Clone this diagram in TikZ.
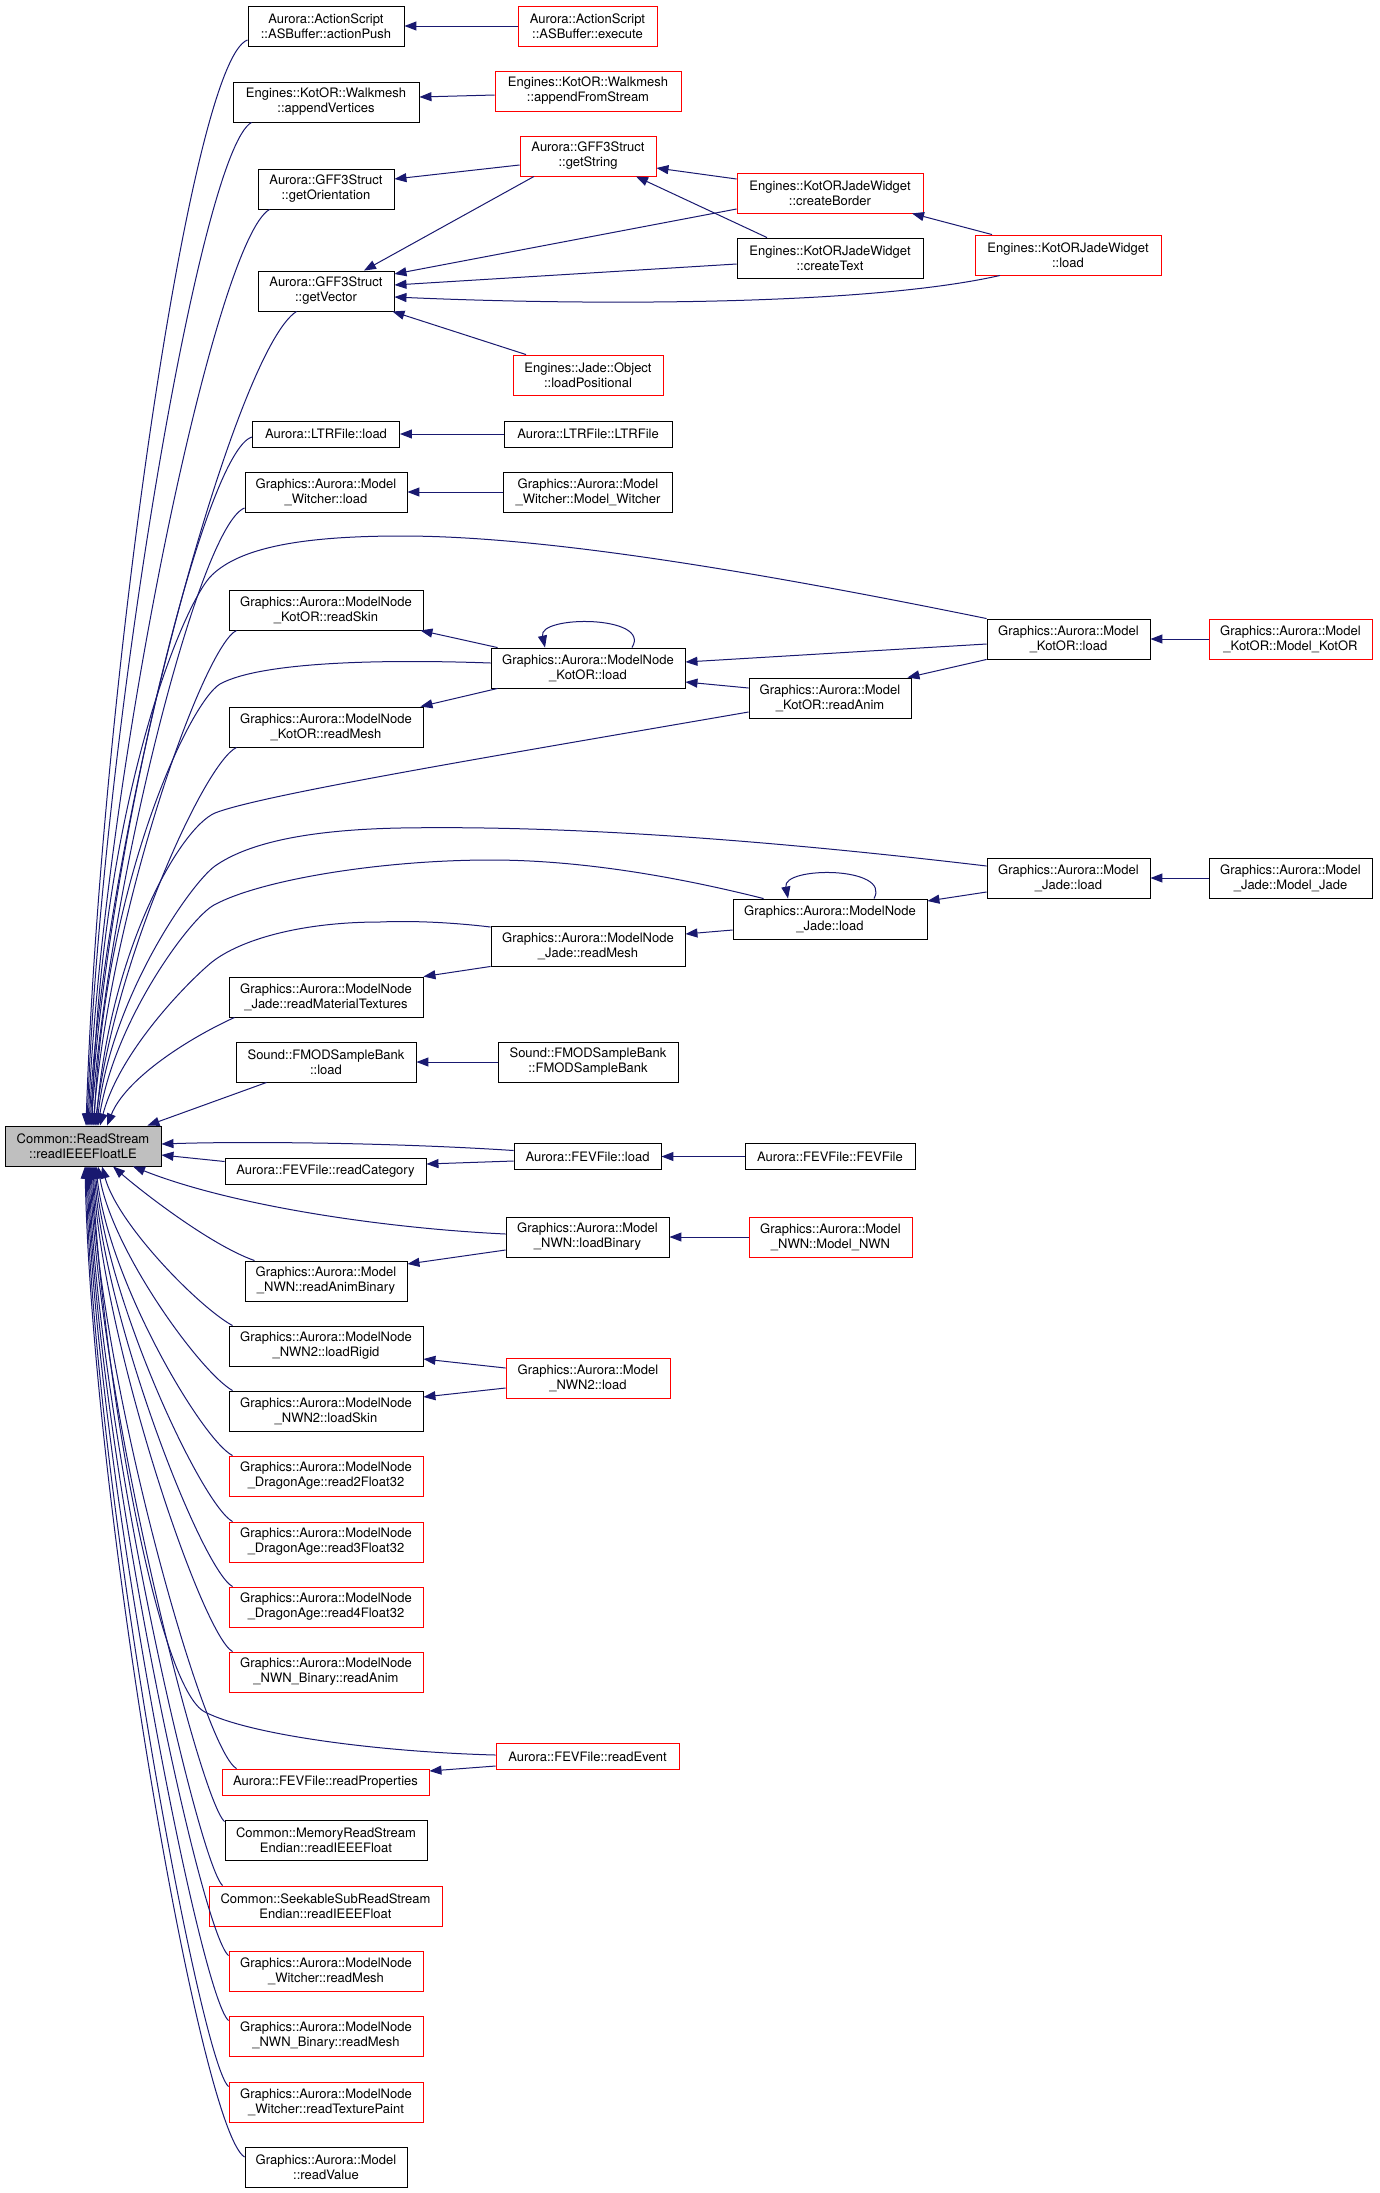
\documentclass[tikz,border=0pt]{standalone}
\usepackage{fontspec}
\setmainfont{TeX Gyre Heros}
\usetikzlibrary{arrows.meta}
\definecolor{navy}{HTML}{191970}
\definecolor{boxgray}{HTML}{BFBFBF}
\tikzset{
  box/.style={draw=black, line width=0.9pt, rectangle, inner sep=0pt, minimum height=40pt, align=center, font=\fontsize{13}{15}\selectfont, fill=white},
  rbox/.style={box, draw=red},
  one/.style={minimum height=26pt},
  callarrow/.style={draw=navy, line width=1pt, -{Triangle[length=12pt,width=9pt]}}
}
\begin{document}
\begin{tikzpicture}[x=1pt,y=-1pt]
\fill[white] (0,0) rectangle (1379,2193);
\path[use as bounding box] (0,0) rectangle (1379,2193);

% nodes
\node[box, minimum width=156pt, fill=boxgray] (main) at (83,1146) {Common::ReadStream\\::readIEEEFloatLE};
\node[box, minimum width=156pt] (actionPush) at (326,26) {Aurora::ActionScript\\::ASBuffer::actionPush};
\node[rbox, minimum width=139pt] (execute) at (587.5,26) {Aurora::ActionScript\\::ASBuffer::execute};
\node[box, minimum width=186pt] (appendVertices) at (326,102) {Engines::KotOR::Walkmesh\\::appendVertices};
\node[rbox, minimum width=186pt] (appendFromStream) at (588,91) {Engines::KotOR::Walkmesh\\::appendFromStream};
\node[box, minimum width=136pt] (getOrientation) at (326,189) {Aurora::GFF3Struct\\::getOrientation};
\node[rbox, minimum width=136pt] (getString) at (588,156) {Aurora::GFF3Struct\\::getString};
\node[box, minimum width=136pt] (getVector) at (326,291) {Aurora::GFF3Struct\\::getVector};
\node[rbox, minimum width=186pt] (createBorder) at (830,193) {Engines::KotORJadeWidget\\::createBorder};
\node[box, minimum width=186pt] (createText) at (830,258) {Engines::KotORJadeWidget\\::createText};
\node[rbox, minimum width=186pt] (kjwLoad) at (1068,255) {Engines::KotORJadeWidget\\::load};
\node[rbox, minimum width=150pt] (loadPositional) at (588,375) {Engines::Jade::Object\\::loadPositional};
\node[box, one, minimum width=147pt] (ltrLoad) at (326,434) {Aurora::LTRFile::load};
\node[box, one, minimum width=168pt] (ltrFile) at (588,434) {Aurora::LTRFile::LTRFile};
\node[box, minimum width=162pt] (witcherLoad) at (326,492) {Graphics::Aurora::Model\\\_Witcher::load};
\node[box, minimum width=169pt] (witcherCtor) at (588,492) {Graphics::Aurora::Model\\\_Witcher::Model\_Witcher};
\node[box, minimum width=194pt] (kotorReadSkin) at (326,610) {Graphics::Aurora::ModelNode\\\_KotOR::readSkin};
\node[box, minimum width=194pt] (mnKotorLoad) at (588,668) {Graphics::Aurora::ModelNode\\\_KotOR::load};
\node[box, minimum width=194pt] (kotorReadMesh) at (326,727) {Graphics::Aurora::ModelNode\\\_KotOR::readMesh};
\node[box, minimum width=163pt] (mKotorLoad) at (1068.5,639) {Graphics::Aurora::Model\\\_KotOR::load};
\node[rbox, minimum width=163pt] (mKotorCtor) at (1290.5,639) {Graphics::Aurora::Model\\\_KotOR::Model\_KotOR};
\node[box, minimum width=162pt] (kotorReadAnim) at (830,698) {Graphics::Aurora::Model\\\_KotOR::readAnim};
\node[box, minimum width=163pt] (mJadeLoad) at (1068.5,878) {Graphics::Aurora::Model\\\_Jade::load};
\node[box, minimum width=163pt] (mJadeCtor) at (1290.5,878) {Graphics::Aurora::Model\\\_Jade::Model\_Jade};
\node[box, minimum width=194pt] (mnJadeLoad) at (830,919) {Graphics::Aurora::ModelNode\\\_Jade::load};
\node[box, minimum width=194pt] (jadeReadMesh) at (588,946) {Graphics::Aurora::ModelNode\\\_Jade::readMesh};
\node[box, minimum width=194pt] (jadeReadMat) at (326,997) {Graphics::Aurora::ModelNode\\\_Jade::readMaterialTextures};
\node[box, minimum width=180pt] (fmodLoad) at (326,1062) {Sound::FMODSampleBank\\::load};
\node[box, minimum width=180pt] (fmodCtor) at (588,1062) {Sound::FMODSampleBank\\::FMODSampleBank};
\node[box, one, minimum width=147pt] (fevLoad) at (587.5,1156.5) {Aurora::FEVFile::load};
\node[box, one, minimum width=201pt] (fevReadCat) at (325.5,1171.5) {Aurora::FEVFile::readCategory};
\node[box, one, minimum width=170pt] (fevCtor) at (830,1156.5) {Aurora::FEVFile::FEVFile};
\node[box, minimum width=163pt] (nwnLoadBin) at (587.5,1237) {Graphics::Aurora::Model\\\_NWN::loadBinary};
\node[rbox, minimum width=163pt] (nwnCtor) at (830.5,1237) {Graphics::Aurora::Model\\\_NWN::Model\_NWN};
\node[box, minimum width=162pt] (nwnReadAnimBin) at (326,1281) {Graphics::Aurora::Model\\\_NWN::readAnimBinary};
\node[box, minimum width=194pt] (nwn2LoadRigid) at (326,1346) {Graphics::Aurora::ModelNode\\\_NWN2::loadRigid};
\node[rbox, minimum width=164pt] (nwn2Load) at (588,1378) {Graphics::Aurora::Model\\\_NWN2::load};
\node[box, minimum width=194pt] (nwn2LoadSkin) at (326,1411) {Graphics::Aurora::ModelNode\\\_NWN2::loadSkin};
\node[rbox, minimum width=194pt] (da2) at (326,1476) {Graphics::Aurora::ModelNode\\\_DragonAge::read2Float32};
\node[rbox, minimum width=194pt] (da3) at (326,1542) {Graphics::Aurora::ModelNode\\\_DragonAge::read3Float32};
\node[rbox, minimum width=194pt] (da4) at (326,1607) {Graphics::Aurora::ModelNode\\\_DragonAge::read4Float32};
\node[rbox, minimum width=194pt] (nwnbReadAnim) at (326,1672) {Graphics::Aurora::ModelNode\\\_NWN\_Binary::readAnim};
\node[rbox, one, minimum width=183pt] (fevReadEvent) at (587.5,1756.5) {Aurora::FEVFile::readEvent};
\node[rbox, one, minimum width=207pt] (fevReadProps) at (325.5,1782) {Aurora::FEVFile::readProperties};
\node[box, minimum width=202pt] (memRead) at (326,1840) {Common::MemoryReadStream\\Endian::readIEEEFloat};
\node[rbox, minimum width=233pt] (seekRead) at (325.5,1906) {Common::SeekableSubReadStream\\Endian::readIEEEFloat};
\node[rbox, minimum width=194pt] (witcherReadMesh) at (326,1971) {Graphics::Aurora::ModelNode\\\_Witcher::readMesh};
\node[rbox, minimum width=194pt] (nwnbReadMesh) at (326,2036) {Graphics::Aurora::ModelNode\\\_NWN\_Binary::readMesh};
\node[rbox, minimum width=194pt] (witcherReadTex) at (326,2102) {Graphics::Aurora::ModelNode\\\_Witcher::readTexturePaint};
\node[box, minimum width=162pt] (readValue) at (326,2167) {Graphics::Aurora::Model\\::readValue};

% edges between callers
\draw[callarrow] (execute.west) -- (actionPush.east);
\draw[callarrow] ([shift={(0,4)}]appendFromStream.west) -- ([shift={(0,-5)}]appendVertices.east);
\draw[callarrow] ([shift={(0,9)}]getString.west) -- ([shift={(0,-10)}]getOrientation.east);
\draw[callarrow] ([shift={(-54,0)}]getString.south) -- ([shift={(38,0)}]getVector.north);
\draw[callarrow] ([shift={(0,-14)}]createBorder.west) -- ([shift={(0,12)}]getString.east);
\draw[callarrow] ([shift={(-63,0)}]createText.north) -- ([shift={(48,0)}]getString.south);
\draw[callarrow] ([shift={(0,16)}]createBorder.west) -- ([shift={(0,-17)}]getVector.east);
\draw[callarrow] ([shift={(0,6)}]createText.west) -- ([shift={(0,-6)}]getVector.east);
\draw[callarrow] ([shift={(-68,0)}]kjwLoad.south) .. controls (870,305) and (600,306) .. ([shift={(0,6)}]getVector.east);
\draw[callarrow] ([shift={(-76,0)}]kjwLoad.north) -- ([shift={(82,0)}]createBorder.south);
\draw[callarrow] ([shift={(-62,0)}]loadPositional.north) -- ([shift={(-2,0)}]getVector.south east);
\draw[callarrow] (ltrFile.west) -- (ltrLoad.east);
\draw[callarrow] (witcherCtor.west) -- (witcherLoad.east);
\draw[callarrow] ([shift={(7,0)}]mnKotorLoad.north west) -- ([shift={(-3,0)}]kotorReadSkin.south east);
\draw[callarrow] ([shift={(44,0)}]mnKotorLoad.north) .. controls (652,615) and (538,615) .. ([shift={(-43,0)}]mnKotorLoad.north);
\draw[callarrow] ([shift={(7,0)}]mnKotorLoad.south west) -- ([shift={(-3,0)}]kotorReadMesh.north east);
\draw[callarrow] ([shift={(0,5)}]mKotorLoad.west) -- ([shift={(0,-6)}]mnKotorLoad.east);
\draw[callarrow] ([shift={(0,-10)}]kotorReadAnim.west) -- ([shift={(0,14)}]mnKotorLoad.east);
\draw[callarrow] (mKotorLoad.south west) -- ([shift={(-4,0)}]kotorReadAnim.north east);
\draw[callarrow] (mKotorCtor.west) -- (mKotorLoad.east);
\draw[callarrow] ([shift={(44,0)}]mnJadeLoad.north) .. controls (892,866) and (782,866) .. ([shift={(-42,0)}]mnJadeLoad.north);
\draw[callarrow] ([shift={(0,11)}]mnJadeLoad.west) -- ([shift={(0,-12)}]jadeReadMesh.east);
\draw[callarrow] ([shift={(0,14)}]mJadeLoad.west) -- ([shift={(0,-18)}]mnJadeLoad.east);
\draw[callarrow] (mJadeCtor.west) -- (mJadeLoad.east);
\draw[callarrow] (jadeReadMesh.south west) -- (jadeReadMat.north east);
\draw[callarrow] (fmodCtor.west) -- (fmodLoad.east);
\draw[callarrow] (fevCtor.west) -- (fevLoad.east);
\draw[callarrow] ([shift={(0,4.5)}]fevLoad.west) -- ([shift={(0,-7.5)}]fevReadCat.east);
\draw[callarrow] (nwnCtor.west) -- (nwnLoadBin.east);
\draw[callarrow] ([shift={(0,13)}]nwnLoadBin.west) -- ([shift={(0,-17)}]nwnReadAnimBin.east);
\draw[callarrow] ([shift={(0,-10)}]nwn2Load.west) -- ([shift={(0,13)}]nwn2LoadRigid.east);
\draw[callarrow] ([shift={(0,10)}]nwn2Load.west) -- ([shift={(0,-14)}]nwn2LoadSkin.east);
\draw[callarrow] ([shift={(0,9.5)}]fevReadEvent.west) -- ([shift={(0,-11)}]fevReadProps.east);

% edges into main from above
\draw[callarrow] ([shift={(0,14)}]actionPush.west) .. controls (190,60) and (100,700) .. ([shift={(3,0)}]main.north);
\draw[callarrow] ([shift={(19,0)}]appendVertices.south west) .. controls (200,150) and (101,740) .. ([shift={(4,0)}]main.north);
\draw[callarrow] ([shift={(12,0)}]getOrientation.south west) .. controls (215,240) and (103,780) .. ([shift={(5,0)}]main.north);
\draw[callarrow] ([shift={(39,0)}]getVector.south west) .. controls (235,350) and (105,830) .. ([shift={(6,0)}]main.north);
\draw[callarrow] ([shift={(0,3)}]ltrLoad.west) .. controls (205,450) and (108,850) .. ([shift={(7,0)}]main.north);
\draw[callarrow] ([shift={(0,16)}]witcherLoad.west) .. controls (200,525) and (110,880) .. ([shift={(8,0)}]main.north);
\draw[callarrow] (mKotorLoad.north west) .. controls (700,560) and (520,536) .. (402,536) .. controls (300,536) and (240,548) .. (212,575) .. controls (185,600) and (100,800) .. ([shift={(9,0)}]main.north);
\draw[callarrow] ([shift={(8,0)}]kotorReadSkin.south west) .. controls (205,645) and (112,900) .. ([shift={(10,0)}]main.north);
\draw[callarrow] ([shift={(0,-5)}]mnKotorLoad.west) .. controls (380,659) and (260,662) .. (220,684) .. controls (190,702) and (105,880) .. ([shift={(11,0)}]main.north);
\draw[callarrow] ([shift={(8,0)}]kotorReadMesh.south west) .. controls (205,762) and (115,960) .. ([shift={(12,0)}]main.north);
\draw[callarrow] ([shift={(0,14)}]kotorReadAnim.west) .. controls (500,755) and (260,795) .. (215,813) .. controls (180,828) and (110,950) .. ([shift={(13,0)}]main.north);
\draw[callarrow] ([shift={(0,-12)}]mJadeLoad.west) .. controls (700,832) and (520,826) .. (400,828) .. controls (300,830) and (245,845) .. (215,866) .. controls (190,884) and (110,1000) .. ([shift={(14,0)}]main.north);
\draw[callarrow] ([shift={(31,0)}]mnJadeLoad.north west) .. controls (650,870) and (560,860) .. (491,860) .. controls (380,860) and (260,880) .. (214,905) .. controls (190,918) and (115,1020) .. ([shift={(15,0)}]main.north);
\draw[callarrow] ([shift={(0,-19)}]jadeReadMesh.west) .. controls (440,921) and (400,921) .. (380,922) .. controls (300,922) and (240,940) .. (212,962) .. controls (190,980) and (120,1050) .. ([shift={(17,0)}]main.north);
\draw[callarrow] ([shift={(6,0)}]jadeReadMat.south west) .. controls (185,1040) and (125,1080) .. ([shift={(24,0)}]main.north);
\draw[callarrow] ([shift={(31,0)}]fmodLoad.south west) -- ([shift={(-14,0)}]main.north east);

% edges into main from the side
\draw[callarrow] ([shift={(0,-6)}]fevLoad.west) .. controls (400,1143) and (250,1141) .. ([shift={(0,-2)}]main.east);
\draw[callarrow] ([shift={(0,-10)}]fevReadCat.west) -- ([shift={(0,9)}]main.east);

% edges into main from below
\draw[callarrow] ([shift={(0,-3)}]nwnLoadBin.west) .. controls (380,1228) and (230,1205) .. ([shift={(50,0)}]main.south);
\draw[callarrow] ([shift={(10,0)}]nwnReadAnimBin.north west) .. controls (210,1245) and (140,1190) .. ([shift={(30,0)}]main.south);
\draw[callarrow] ([shift={(4,0)}]nwn2LoadRigid.north west) .. controls (200,1308) and (118,1225) .. ([shift={(19,0)}]main.south);
\draw[callarrow] ([shift={(4,0)}]nwn2LoadSkin.north west) .. controls (200,1372) and (112,1250) .. ([shift={(15,0)}]main.south);
\draw[callarrow] ([shift={(4,0)}]da2.north west) .. controls (202,1440) and (108,1280) .. ([shift={(13,0)}]main.south);
\draw[callarrow] ([shift={(4,0)}]da3.north west) .. controls (202,1505) and (106,1300) .. ([shift={(12,0)}]main.south);
\draw[callarrow] ([shift={(4,0)}]da4.north west) .. controls (202,1570) and (104,1320) .. ([shift={(11,0)}]main.south);
\draw[callarrow] ([shift={(4,0)}]nwnbReadAnim.north west) .. controls (202,1635) and (102,1340) .. ([shift={(10,0)}]main.south);
\draw[callarrow] ([shift={(0,-1.5)}]fevReadEvent.west) .. controls (380,1752) and (250,1735) .. (205,1712) .. controls (160,1690) and (105,1400) .. ([shift={(9,0)}]main.south);
\draw[callarrow] ([shift={(15,0)}]fevReadProps.north west) .. controls (203,1750) and (100,1380) .. ([shift={(8,0)}]main.south);
\draw[callarrow] ([shift={(0,2)}]memRead.north west) .. controls (200,1800) and (99,1400) .. ([shift={(7,0)}]main.south);
\draw[callarrow] ([shift={(14,0)}]seekRead.north west) .. controls (198,1862) and (97,1420) .. ([shift={(6,0)}]main.south);
\draw[callarrow] ([shift={(0,5)}]witcherReadMesh.north west) .. controls (200,1932) and (96,1440) .. ([shift={(5,0)}]main.south);
\draw[callarrow] ([shift={(0,5)}]nwnbReadMesh.north west) .. controls (200,1996) and (95,1460) .. ([shift={(4,0)}]main.south);
\draw[callarrow] ([shift={(0,5)}]witcherReadTex.north west) .. controls (200,2062) and (93,1480) .. ([shift={(3,0)}]main.south);
\draw[callarrow] ([shift={(0,-10)}]readValue.west) .. controls (200,2130) and (92,1500) .. ([shift={(2,0)}]main.south);
\end{tikzpicture}
\end{document}
